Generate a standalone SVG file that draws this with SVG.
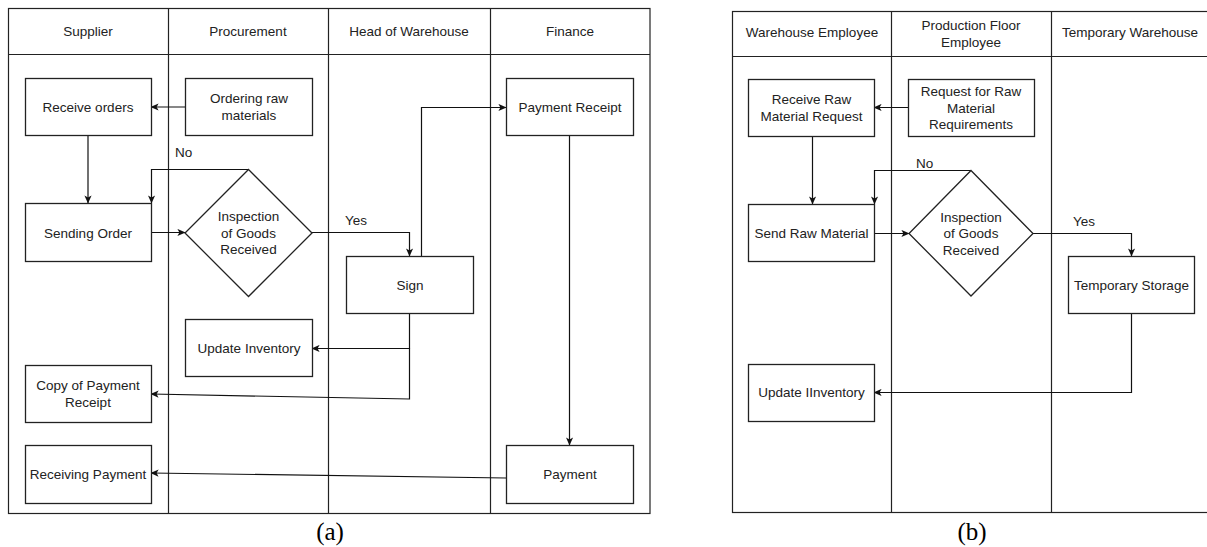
<svg xmlns="http://www.w3.org/2000/svg" width="1207" height="547" viewBox="0 0 1207 547">
<style>
.lane{fill:none;stroke:#222;stroke-width:1.2}
.node{fill:#fff;stroke:#222;stroke-width:1.3}
.t{font-family:"Liberation Sans",Arial,sans-serif;font-size:13.5px;fill:#222;text-anchor:middle}
.lbl{font-family:"Liberation Sans",Arial,sans-serif;font-size:13.5px;fill:#222}
.cap{font-family:"Liberation Serif","Times New Roman",serif;font-size:25px;fill:#000;text-anchor:middle}
.c{fill:none;stroke:#111;stroke-width:1.2}
.ca{fill:none;stroke:#111;stroke-width:1.2;marker-end:url(#arr)}
</style>
<defs>
<marker id="arr" viewBox="0 0 10 10" refX="9.5" refY="5" markerWidth="8" markerHeight="8" markerUnits="userSpaceOnUse" orient="auto">
<path d="M0,0.5 L10,5 L0,9.5 L2.5,5 z" fill="#111"/>
</marker>
</defs>
<rect width="1207" height="547" fill="#fff"/>

<g id="lanes-a">
<rect class="lane" x="8.5" y="8.5" width="641.5" height="505"/>
<line class="lane" x1="8.5" y1="54.5" x2="650" y2="54.5"/>
<line class="lane" x1="168.5" y1="8.5" x2="168.5" y2="513.5"/>
<line class="lane" x1="328.5" y1="8.5" x2="328.5" y2="513.5"/>
<line class="lane" x1="490.5" y1="8.5" x2="490.5" y2="513.5"/>
<text class="t" x="88" y="36">Supplier</text>
<text class="t" x="248" y="36">Procurement</text>
<text class="t" x="409" y="36">Head of Warehouse</text>
<text class="t" x="570" y="36">Finance</text>
</g>

<g id="lanes-b">
<rect class="lane" x="732.5" y="11.5" width="480" height="501"/>
<line class="lane" x1="732.5" y1="56.5" x2="1207" y2="56.5"/>
<line class="lane" x1="891.5" y1="11.5" x2="891.5" y2="512.5"/>
<line class="lane" x1="1051.5" y1="11.5" x2="1051.5" y2="512.5"/>
<text class="t" x="812" y="37">Warehouse Employee</text>
<text class="t" x="971" y="30">Production Floor</text>
<text class="t" x="971" y="47">Employee</text>
<text class="t" x="1130" y="37">Temporary Warehouse</text>
</g>

<g id="connectors">
<path class="ca" d="M185,107 L151,107"/>
<path class="ca" d="M88,135 L88,203"/>
<path class="ca" d="M248,169.5 L151.5,169.5 L151.5,203"/>
<path class="ca" d="M151,232.5 L185,232.5"/>
<path class="ca" d="M312,232.5 L409.5,232.5 L409.5,256"/>
<path class="ca" d="M421.5,256 L421.5,107.5 L506,107.5"/>
<path class="ca" d="M409.5,313 L409.5,348.5 L312,348.5"/>
<path class="ca" d="M409.5,348.5 L409.5,399 L151,394"/>
<path class="ca" d="M569.5,135 L569.5,445"/>
<path class="ca" d="M506,478 L151,473"/>

<path class="ca" d="M908,107.5 L874,107.5"/>
<path class="ca" d="M812.5,136 L812.5,204"/>
<path class="ca" d="M971,170.5 L874.5,170.5 L874.5,204"/>
<path class="ca" d="M874,233.5 L909,233.5"/>
<path class="ca" d="M1033,233.5 L1131.5,233.5 L1131.5,256"/>
<path class="ca" d="M1131.5,313 L1131.5,392.5 L874,392.5"/>
<text class="lbl" x="175" y="157">No</text>
<text class="lbl" x="345" y="225">Yes</text>
<text class="lbl" x="916" y="168">No</text>
<text class="lbl" x="1073" y="226">Yes</text>
</g>

<g id="n-receive-orders"><rect class="node" x="25.5" y="78.5" width="126" height="57"/><text class="t" x="88" y="111.5">Receive orders</text></g>
<g id="n-ordering"><rect class="node" x="185.5" y="78.5" width="127" height="57"/><text class="t" x="249" y="103">Ordering raw</text><text class="t" x="249" y="120">materials</text></g>
<g id="n-payment-receipt"><rect class="node" x="506.5" y="78.5" width="127" height="57"/><text class="t" x="570" y="111.5">Payment Receipt</text></g>
<g id="n-sending-order"><rect class="node" x="25.5" y="203.5" width="126" height="58"/><text class="t" x="88" y="237.5">Sending Order</text></g>
<g id="n-inspection-a"><polygon class="node" points="248.5,169.5 312,233 248.5,296.5 185,233"/><text class="t" x="248.5" y="221">Inspection</text><text class="t" x="248.5" y="237.5">of Goods</text><text class="t" x="248.5" y="254">Received</text></g>
<g id="n-sign"><rect class="node" x="346.5" y="256.5" width="127" height="57"/><text class="t" x="410" y="289.5">Sign</text></g>
<g id="n-update-inventory"><rect class="node" x="185.5" y="319.5" width="127" height="57"/><text class="t" x="249" y="352.5">Update Inventory</text></g>
<g id="n-copy-receipt"><rect class="node" x="25.5" y="365.5" width="126" height="57"/><text class="t" x="88" y="390">Copy of Payment</text><text class="t" x="88" y="407">Receipt</text></g>
<g id="n-receiving-payment"><rect class="node" x="25.5" y="445.5" width="126" height="58"/><text class="t" x="88" y="478.5">Receiving Payment</text></g>
<g id="n-payment"><rect class="node" x="506.5" y="445.5" width="127" height="58"/><text class="t" x="570" y="478.5">Payment</text></g>

<g id="n-receive-request"><rect class="node" x="748.5" y="79.5" width="126" height="57"/><text class="t" x="811.5" y="104">Receive Raw</text><text class="t" x="811.5" y="121">Material Request</text></g>
<g id="n-request-req"><rect class="node" x="908.5" y="79.5" width="126" height="57"/><text class="t" x="971" y="96">Request for Raw</text><text class="t" x="971" y="112.5">Material</text><text class="t" x="971" y="129">Requirements</text></g>
<g id="n-send-raw"><rect class="node" x="748.5" y="204.5" width="126" height="57"/><text class="t" x="811.5" y="237.5">Send Raw Material</text></g>
<g id="n-inspection-b"><polygon class="node" points="971,170.5 1033,233.5 971,296 909,233.5"/><text class="t" x="971" y="221.5">Inspection</text><text class="t" x="971" y="238">of Goods</text><text class="t" x="971" y="254.5">Received</text></g>
<g id="n-temp-storage"><rect class="node" x="1068.5" y="256.5" width="126" height="57"/><text class="t" x="1131.5" y="289.5">Temporary Storage</text></g>
<g id="n-update-iinventory"><rect class="node" x="748.5" y="364.5" width="126" height="57"/><text class="t" x="811.5" y="397">Update IInventory</text></g>

<text class="cap" x="330" y="540">(a)</text>
<text class="cap" x="972" y="540">(b)</text>
</svg>
